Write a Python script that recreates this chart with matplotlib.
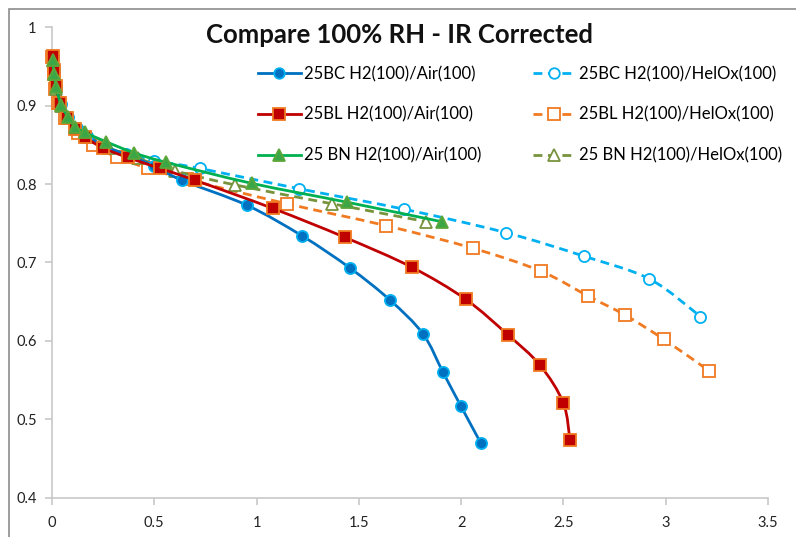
import numpy as np
import matplotlib
matplotlib.use("Agg")
import matplotlib.pyplot as plt
from matplotlib.path import Path
from matplotlib.patches import PathPatch, Rectangle
from matplotlib.lines import Line2D

plt.rcParams['font.family'] = ['Lato', 'DejaVu Sans']

title = "Compare 100% RH - IR Corrected"

# Current density (x) and cell voltage (y) for each series
bc_air_x = [0.003, 0.008, 0.02, 0.045, 0.08, 0.12, 0.17, 0.26, 0.38, 0.5, 0.634, 0.953, 1.222, 1.456, 1.652, 1.813, 1.911, 1.998, 2.095]
bc_air_y = [0.962, 0.944, 0.924, 0.902, 0.886, 0.872, 0.862, 0.848, 0.836, 0.823, 0.805, 0.773, 0.734, 0.693, 0.652, 0.609, 0.560, 0.517, 0.470]

bl_air_x = [0.003, 0.008, 0.02, 0.04, 0.075, 0.11, 0.16, 0.25, 0.37, 0.528, 0.699, 1.079, 1.432, 1.758, 2.022, 2.227, 2.385, 2.499, 2.532]
bl_air_y = [0.963, 0.945, 0.925, 0.903, 0.884, 0.870, 0.860, 0.846, 0.834, 0.820, 0.805, 0.769, 0.732, 0.694, 0.653, 0.608, 0.569, 0.521, 0.473]

bn_air_x = [0.003, 0.01, 0.02, 0.045, 0.077, 0.113, 0.16, 0.265, 0.40, 0.555, 0.976, 1.44, 1.905]
bn_air_y = [0.958, 0.941, 0.924, 0.901, 0.886, 0.873, 0.866, 0.854, 0.840, 0.828, 0.801, 0.777, 0.752]

bc_helox_x = [0.003, 0.01, 0.02, 0.04, 0.07, 0.11, 0.16, 0.24, 0.36, 0.5, 0.723, 1.209, 1.72, 2.219, 2.60, 2.92, 3.17]
bc_helox_y = [0.962, 0.944, 0.924, 0.902, 0.885, 0.872, 0.861, 0.849, 0.838, 0.830, 0.820, 0.794, 0.768, 0.738, 0.708, 0.679, 0.631]

bl_helox_x = [0.002, 0.008, 0.016, 0.031, 0.064, 0.129, 0.202, 0.319, 0.471, 0.66, 1.147, 1.632, 2.059, 2.389, 2.621, 2.80, 2.99, 3.21]
bl_helox_y = [0.962, 0.941, 0.922, 0.903, 0.884, 0.865, 0.850, 0.834, 0.820, 0.806, 0.775, 0.747, 0.718, 0.689, 0.657, 0.633, 0.602, 0.562]

bn_helox_x = [0.003, 0.01, 0.02, 0.045, 0.08, 0.12, 0.17, 0.28, 0.42, 0.6, 0.894, 1.367, 1.83]
bn_helox_y = [0.957, 0.940, 0.922, 0.900, 0.884, 0.870, 0.860, 0.846, 0.833, 0.817, 0.799, 0.775, 0.752]

labels = ["25BC H2(100)/Air(100)", "25BL H2(100)/Air(100)", "25 BN H2(100)/Air(100)",
          "25BC H2(100)/HelOx(100)", "25BL H2(100)/HelOx(100)", "25 BN H2(100)/HelOx(100)"]

x_ticks = [0, 0.5, 1, 1.5, 2, 2.5, 3, 3.5]
y_ticks = [0.4, 0.5, 0.6, 0.7, 0.8, 0.9, 1.0]
x_tick_labels = ["0", "0.5", "1", "1.5", "2", "2.5", "3", "3.5"]
y_tick_labels = ["0.4", "0.5", "0.6", "0.7", "0.8", "0.9", "1"]

W, H = 796, 537
fig = plt.figure(figsize=(W / 100, H / 100), dpi=100)
fig.patch.set_facecolor("white")

# outer chart-area frame
fig.patches.append(Rectangle((9 / W, -0.2), 1.2, 1 - 9 / H + 0.2, transform=fig.transFigure,
                             fill=False, edgecolor="#8c8c8c", linewidth=1.2))

ax = fig.add_axes([52 / W, 1 - 497.5 / H, (768 - 52) / W, (497.5 - 27.4) / H])
ax.set_xlim(0, 3.5)
ax.set_ylim(0.4, 1.0)
for s in ("top", "right"):
    ax.spines[s].set_visible(False)
for s in ("left", "bottom"):
    ax.spines[s].set_color("#c8c8c8")
    ax.spines[s].set_linewidth(1.2)
ax.set_xticks(x_ticks)
ax.set_xticklabels(x_tick_labels)
ax.set_yticks(y_ticks)
ax.set_yticklabels(y_tick_labels)
ax.tick_params(axis="both", colors="#c8c8c8", length=5, width=1.2, labelcolor="#222222",
               labelsize=10.5)
ax.tick_params(axis="x", pad=8)
ax.tick_params(axis="y", pad=6)


def smooth_path(xs, ys):
    """Cubic Bezier path through the points (Catmull-Rom style), built in display space."""
    pts = ax.transData.transform(np.column_stack([xs, ys]))
    n = len(pts)
    verts = [pts[0]]
    codes = [Path.MOVETO]
    for i in range(n - 1):
        p0 = pts[i - 1] if i > 0 else pts[i]
        p1 = pts[i]
        p2 = pts[i + 1]
        p3 = pts[i + 2] if i + 2 < n else pts[i + 1]
        c1 = p1 + (p2 - p0) / 6.0
        c2 = p2 - (p3 - p1) / 6.0
        verts += [c1, c2, p2]
        codes += [Path.CURVE4] * 3
    verts = ax.transData.inverted().transform(np.array(verts))
    return Path(verts, codes)


series = [
    dict(x=bc_helox_x, y=bc_helox_y, color="#00b0f0", ls=(0, (3.2, 2.0)), marker="o", ms=8,
         mfc="white", mec="#00b0f0", z=3),
    dict(x=bl_helox_x, y=bl_helox_y, color="#f07a22", ls=(0, (3.2, 2.0)), marker="s", ms=8.5,
         mfc="white", mec="#f07a22", z=3.1),
    dict(x=bn_helox_x, y=bn_helox_y, color="#77933c", ls=(0, (3.2, 2.0)), marker="^", ms=8.5,
         mfc="white", mec="#77933c", z=3.2),
    dict(x=bc_air_x, y=bc_air_y, color="#0070c0", ls="-", marker="o", ms=8,
         mfc="#0070c0", mec="#00b0f0", z=4),
    dict(x=bl_air_x, y=bl_air_y, color="#c00000", ls="-", marker="s", ms=8.5,
         mfc="#c00000", mec="#f07a22", z=4.1),
    dict(x=bn_air_x, y=bn_air_y, color="#00b050", ls="-", marker="^", ms=9,
         mfc="#3aa645", mec="#5ca63a", z=4.2),
]

lw = 2.0
for s in series:
    patch = PathPatch(smooth_path(s["x"], s["y"]), facecolor="none", edgecolor=s["color"],
                      linewidth=lw, linestyle=s["ls"], zorder=s["z"], capstyle="butt")
    ax.add_patch(patch)
    ax.plot(s["x"], s["y"], linestyle="none", marker=s["marker"], markersize=s["ms"],
            markerfacecolor=s["mfc"], markeredgecolor=s["mec"], markeredgewidth=1.3,
            zorder=s["z"] + 0.05, clip_on=False)

# legend handles, in column order (Air column, then HelOx column)
order = [3, 4, 5, 0, 1, 2]
handles = []
for i in order:
    s = series[i]
    handles.append(Line2D([], [], color=s["color"], linewidth=lw, linestyle=s["ls"],
                          marker=s["marker"], markersize=s["ms"] * 0.95, markerfacecolor=s["mfc"],
                          markeredgecolor=s["mec"], markeredgewidth=1.3))
leg = fig.legend(handles, labels, ncol=2, loc="upper left",
                 bbox_to_anchor=(258 / W, 1 - 66 / H), frameon=False, fontsize=12,
                 handlelength=2.55, handletextpad=0.2, columnspacing=3.1, labelspacing=1.47,
                 numpoints=1, borderaxespad=0, borderpad=0)

fig.text(400 / W, 1 - 35 / H, title, ha="center", va="center", fontsize=18.5,
         fontweight="bold", color="#111111")

fig.savefig("out.png", dpi=100, facecolor="white")
